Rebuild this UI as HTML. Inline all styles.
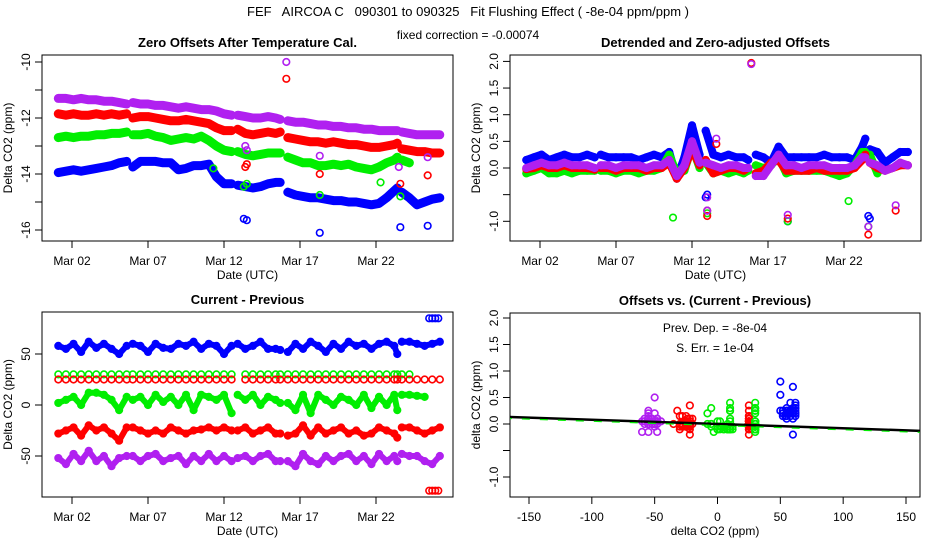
<!DOCTYPE html>
<html><head><meta charset="utf-8"><style>
html,body{margin:0;padding:0;background:#fff}
svg{display:block;font-family:"Liberation Sans",sans-serif}
</style></head><body>
<svg id="chart" width="936" height="540" viewBox="0 0 936 540" xmlns="http://www.w3.org/2000/svg">
<text x="468" y="16" font-size="13" text-anchor="middle" xml:space="preserve">FEF   AIRCOA C   090301 to 090325   Fit Flushing Effect ( -8e-04 ppm/ppm )</text>
<text x="468" y="39" font-size="12" text-anchor="middle">fixed correction = -0.00074</text>
<g id="layer"></g>
</svg>
<script>
// ---------- data ----------
const days = [0.1,0.6,1.1,1.6,2.1,2.6,3.1,3.6,4.1,4.6,null,5.0,5.5,6.0,6.5,7.0,7.5,8.0,8.5,9.0,9.5,10.0,10.5,11.0,11.5,null,11.9,12.4,12.9,13.4,13.9,14.4,14.7,null,15.2,15.7,16.2,16.7,17.2,17.7,18.2,18.7,19.2,19.7,20.2,20.7,21.2,21.7,22.2,22.4,null,22.7,23.2,23.7,24.2,24.7,25.2];
const dateTickDays = [1,6,11,16,21];
const dateTickLabels = ["Mar 02","Mar 07","Mar 12","Mar 17","Mar 22"];

// Panel 1: zero offsets after temperature cal.
const p1Purple = [-11.3,-11.3,-11.35,-11.3,-11.35,-11.35,-11.4,-11.4,-11.45,-11.5,null,-11.45,-11.5,-11.5,-11.55,-11.55,-11.6,-11.65,-11.6,-11.65,-11.7,-11.7,-11.75,-11.85,-11.9,null,-11.9,-11.95,-12.0,-12.0,-11.95,-12.0,-12.05,null,-12.1,-12.15,-12.15,-12.2,-12.25,-12.25,-12.3,-12.3,-12.35,-12.35,-12.4,-12.4,-12.45,-12.45,-12.45,-12.45,null,-12.5,-12.55,-12.6,-12.6,-12.6,-12.6];
const p1Red = [-11.85,-11.9,-11.85,-11.9,-11.9,-11.85,-11.9,-11.85,-11.9,-11.85,null,-12.0,-11.95,-11.95,-12.0,-12.05,-12.1,-12.1,-12.05,-12.1,-12.15,-12.2,-12.35,-12.45,-12.45,null,-12.4,-12.55,-12.6,-12.55,-12.5,-12.55,-12.5,null,-12.7,-12.75,-12.8,-12.85,-12.85,-12.9,-12.85,-12.9,-12.95,-12.95,-13.0,-13.05,-13.05,-13.0,-12.95,-12.9,null,-13.1,-13.15,-13.2,-13.2,-13.25,-13.25];
const p1Green = [-12.7,-12.65,-12.7,-12.65,-12.65,-12.6,-12.6,-12.55,-12.55,-12.5,null,-12.6,-12.6,-12.55,-12.65,-12.7,-12.8,-12.75,-12.7,-12.75,-12.65,-12.8,-13.0,-13.15,-13.2,null,-13.2,-13.3,-13.35,-13.3,-13.25,-13.25,-13.25,null,-13.4,-13.5,-13.6,-13.6,-13.7,-13.7,-13.65,-13.7,-13.65,-13.75,-13.8,-13.85,-13.75,-13.6,-13.5,-13.4,null,-13.5,-13.6,null,null,null,null];
const p1Blue = [-13.95,-13.9,-13.85,-13.9,-13.85,-13.8,-13.75,-13.7,-13.6,-13.55,null,-13.75,-13.55,-13.55,-13.55,-13.6,-13.6,-13.85,-13.8,-13.7,-13.7,-13.65,-14.1,-14.35,-14.35,null,-14.4,-14.45,-14.5,-14.45,-14.35,-14.3,-14.3,null,-14.65,-14.75,-14.8,-14.85,-14.85,-14.9,-14.95,-14.95,-15.0,-15.0,-15.05,-15.1,-15.05,-14.85,-14.6,-14.5,null,-14.65,-14.85,-15.1,-15.0,-14.9,-14.85];
const p1OutPurpleDay = [15.1,12.4,12.5,17.3,22.5,24.4];
const p1OutPurpleVal = [-10.0,-13.0,-13.15,-13.35,-13.75,-13.4];
const p1OutRedDay = [15.1,12.4,12.5,17.3,22.6,24.4];
const p1OutRedVal = [-10.6,-13.75,-13.65,-14.0,-14.35,-14.05];
const p1OutGreenDay = [10.3,12.3,12.5,17.3,21.3,22.6];
const p1OutGreenVal = [-13.8,-14.45,-14.35,-14.75,-14.3,-14.8];
const p1OutBlueDay = [12.3,12.5,17.3,22.6,24.4];
const p1OutBlueVal = [-15.6,-15.65,-16.1,-15.9,-15.85];

// Panel 2: detrended and zero-adjusted offsets
const p2Blue = [0.15,0.2,0.25,0.15,0.2,0.25,0.2,0.2,0.25,0.2,null,0.25,0.2,0.2,0.2,0.2,0.15,0.2,0.25,0.2,0.3,-0.2,0.2,0.8,0.25,null,0.7,0.25,0.2,0.25,0.2,0.2,0.15,null,0.25,0.2,0.1,0.4,0.2,0.2,0.2,0.2,0.2,0.25,0.2,0.2,0.2,0.15,0.4,0.55,null,0.35,0.3,0.1,0.2,0.3,0.3];
const p2Green = [-0.1,-0.05,0,-0.1,-0.1,-0.05,-0.1,-0.05,-0.05,-0.05,null,-0.05,-0.05,-0.1,-0.05,-0.05,-0.1,-0.05,-0.05,0,0.25,-0.1,-0.05,0.4,0.0,null,0.1,-0.1,-0.05,-0.1,-0.05,-0.1,-0.05,null,0.05,0.0,0.05,0.2,-0.1,-0.05,-0.05,-0.05,-0.05,-0.05,-0.1,-0.15,-0.1,0.05,0.3,0.3,null,0.25,-0.1,null,null,null,null];
const p2Red = [-0.02,0,0.05,0,0,0.05,0,0,0,-0.03,null,0,0,-0.05,0,0,0,-0.05,0,0,0.1,-0.2,0,0.35,0.05,null,0.15,-0.1,-0.05,0,0,-0.05,0,null,-0.1,-0.05,0.1,0.15,-0.05,-0.05,-0.05,-0.05,0,-0.05,-0.05,-0.05,-0.05,0,0.15,0.25,null,0.1,0.0,-0.05,0.0,0.05,0.05];
const p2Purple = [0,0.05,0.1,0.05,0.05,0.1,0.05,0.05,0.05,0,null,0.05,0.05,0,0.05,0.05,0.05,0.0,0.05,0.05,0.15,-0.15,0.05,0.5,0.1,null,0.1,0.05,0.0,0.05,0.05,0.0,0.0,null,-0.15,-0.15,0.05,0.25,0.05,0.05,0.0,0.05,0.05,0.05,0.0,0.0,0.0,0.05,0.2,0.2,null,0.1,0.05,-0.05,0.0,0.1,0.05];
const p2OutBlueDay = [11.9,12.0,17.3,22.6,22.7];
const p2OutBlueVal = [-0.55,-0.5,-1.0,-0.9,-0.95];
const p2OutPurpleDay = [12.0,12.0,12.6,14.9,17.3,22.6,24.4];
const p2OutPurpleVal = [-0.55,-0.8,0.55,1.95,-0.88,-1.1,-0.7];
const p2OutRedDay = [12.0,12.0,12.6,14.9,17.3,22.6,24.4];
const p2OutRedVal = [-0.9,-0.8,0.45,1.97,-0.95,-1.25,-0.8];
const p2OutGreenDay = [9.75,12.0,17.3,21.3,22.6];
const p2OutGreenVal = [-0.93,-0.85,-1.0,-0.62,-1.1];

// Panel 3: current - previous
const p3Blue = [58,55,60,52,62,56,60,55,50,58,null,60,58,52,60,56,55,60,58,62,55,60,58,50,58,null,60,55,58,62,55,55,54,null,52,60,55,62,58,52,60,55,62,58,60,55,60,62,58,50,null,62,62,60,58,60,62];
const p3GreenRow = [30,30,30,30,30,30,30,30,30,30,null,30,30,30,30,30,30,30,30,30,30,30,30,30,30,null,null,30,30,30,30,30,30,null,30,30,30,30,30,30,30,30,30,30,30,30,30,30,30,30,null,30,30,null,null,null,null];
const p3RedRow = [25,25,25,25,25,25,25,25,25,25,null,25,25,25,25,25,25,25,25,25,25,25,25,25,25,null,null,25,25,25,25,25,25,null,25,25,25,25,25,25,25,25,25,25,25,25,25,25,25,25,null,25,25,25,25,25,25];
const p3Green = [2,5,8,0,12,12,10,5,-5,8,null,5,8,0,10,3,8,0,10,-5,10,8,5,10,-8,null,10,5,10,0,8,5,2,null,2,-5,10,-8,10,5,0,8,5,0,10,-3,8,0,10,-5,null,10,10,9,8,null,null];
const p3Red = [-28,-25,-22,-30,-20,-25,-22,-28,-35,-22,null,-22,-25,-28,-25,-28,-22,-25,-28,-25,-24,-22,-25,-22,-25,null,-25,-22,-28,-25,-22,-28,-28,null,-30,-28,-20,-30,-22,-28,-25,-22,-28,-25,-30,-28,-22,-25,-28,-32,null,-22,-22,-25,-28,-25,-22];
const p3Purple = [-52,-58,-48,-55,-45,-55,-50,-60,-52,-50,null,-50,-55,-50,-48,-55,-52,-50,-58,-50,-55,-48,-55,-50,-55,null,-52,-50,-55,-50,-48,-55,-55,null,-55,-60,-48,-55,-58,-50,-55,-50,-48,-55,-50,-58,-48,-55,-50,-55,null,-48,-50,-50,-55,-58,-50];
const p3HighBlueDay = [24.5,24.7,24.9,25.1];
const p3HighBlueVal = [85,85,85,85];
const p3LowRedDay = [24.5,24.7,24.9,25.1];
const p3LowRedVal = [-84,-84,-84,-84];

// Panel 4: regression
const fitSlope = -0.0008;
const fitIntercept = 0.0;
const p4XTicks = [-150,-100,-50,0,50,100,150];
const p2YTicks = [-1.0,-0.5,0.0,0.5,1.0,1.5,2.0];
const p2YLabels = ["-1.0","","0.0","0.5","1.0","1.5","2.0"];
const p1YTicks = [-16,-15,-14,-13,-12,-11,-10];
const p1YLabels = ["-16","","-14","","-12","","-10"];
const p3YTicks = [-50,0,50];
const p3YLabels = ["-50","0","50"];

// ---------- drawing ----------
const NS = "http://www.w3.org/2000/svg";
const layer = document.getElementById("layer");
const COL = {blue:"#0000ff", green:"#00ee00", red:"#ff0000", purple:"#b020f0"};
function mk(tag, attrs, parent){
  const e = document.createElementNS(NS, tag);
  for (const k in attrs) e.setAttribute(k, attrs[k]);
  (parent||layer).appendChild(e);
  return e;
}
const d2x = d => 72 + (d - 1) * 15.2;
const P1 = {x0:42,x1:453,y0:55,y1:241, x:d2x, y:v => 62 + (-10 - v) * 28};
const P2 = {x0:510,x1:921,y0:55,y1:241, x:d => d2x(d) + 468, y:v => 168 - v * 53.3};
const P3 = {x0:42,x1:453,y0:312,y1:497, x:d2x, y:v => 405 - v * 1.02};
const P4 = {x0:510,x1:920,y0:313,y1:497, x:v => 717.5 + v * 1.2567, y:v => 424 - v * 53};

function panelFrame(P, name, title, xlab, ylab){
  const g = mk("g", {});
  
  
  const r = mk("rect", {x:P.x0,y:P.y0,width:P.x1-P.x0,height:P.y1-P.y0,fill:"none",stroke:"#000","stroke-width":1}, g);
  
  
  const t = mk("text", {x:(P.x0+P.x1)/2, y:P.y0-8, "font-size":13, "font-weight":"bold", "text-anchor":"middle"}, g);
  t.textContent = title;
  
  
  const xl = mk("text", {x:(P.x0+P.x1)/2, y:P.y1+38, "font-size":12, "text-anchor":"middle"}, g);
  xl.textContent = xlab;
  
  
  const cy = (P.y0+P.y1)/2, cx = P.x0 - 30;
  const yl = mk("text", {x:cx, y:cy, "font-size":12, "text-anchor":"middle", transform:`rotate(-90 ${cx} ${cy})`}, g);
  yl.textContent = ylab;
  
  
  return g;
}
function xAxis(P, g, vals, labels, name){
  vals.forEach((v,i) => {
    const x = P.x(v);
    const tk = mk("line", {x1:x,x2:x,y1:P.y1,y2:P.y1+7,stroke:"#000"}, g);
    
    
    const t = mk("text", {x:x, y:P.y1+24, "font-size":12, "text-anchor":"middle"}, g);
    t.textContent = labels[i];
    
    
  });
}
function yAxis(P, g, vals, labels, name){
  vals.forEach((v,i) => {
    const y = P.y(v);
    const tk = mk("line", {x1:P.x0-7,x2:P.x0,y1:y,y2:y,stroke:"#000"}, g);
    
    
    if (labels[i]) {
      const tx = P.x0 - 12;
      const t = mk("text", {x:tx, y:y, "font-size":12, "text-anchor":"middle", transform:`rotate(-90 ${tx} ${y})`}, g);
      t.textContent = labels[i];
      
      
    }
  });
}
function clipFor(P, id){
  const cp = mk("clipPath", {id:id});
  mk("rect", {x:P.x0,y:P.y0,width:P.x1-P.x0,height:P.y1-P.y0}, cp);
  return "url(#" + id + ")";
}
function series(P, g, xs, ys, color, name, bandW){
  const sg = mk("g", {}, g);
  
  
  let seg = [];
  const flush = () => {
    if (seg.length > 1 && bandW) {
      const pl = mk("polyline", {points:seg.join(" "), fill:"none", stroke:color, "stroke-width":bandW, "stroke-linejoin":"round", "stroke-linecap":"round"}, sg);
      
      
    }
    seg = [];
  };
  for (let i = 0; i < xs.length; i++) {
    if (xs[i] === null || ys[i] === null || ys[i] === undefined) { flush(); continue; }
    const x = P.x(xs[i]), y = P.y(ys[i]);
    seg.push(x.toFixed(1) + "," + y.toFixed(1));
    const c = mk("circle", {cx:x, cy:y, r:3.3, fill:"none", stroke:color, "stroke-width":1.6}, sg);
    
    
  }
  flush();
  return sg;
}

// Panel 1
let g = panelFrame(P1, "panel-zero-offsets", "Zero Offsets After Temperature Cal.", "Date (UTC)", "Delta CO2 (ppm)");
xAxis(P1, g, dateTickDays, dateTickLabels, "panel-zero-offsets");
yAxis(P1, g, p1YTicks, p1YLabels, "panel-zero-offsets");
let pg = mk("g", {"clip-path":clipFor(P1,"c1")}, g);
series(P1, pg, days, p1Blue, COL.blue, "p1-blue-series", 9);
series(P1, pg, days, p1Green, COL.green, "p1-green-series", 9);
series(P1, pg, days, p1Red, COL.red, "p1-red-series", 9);
series(P1, pg, days, p1Purple, COL.purple, "p1-purple-series", 9);
series(P1, pg, p1OutBlueDay, p1OutBlueVal, COL.blue, "p1-blue-outliers", 0);
series(P1, pg, p1OutGreenDay, p1OutGreenVal, COL.green, "p1-green-outliers", 0);
series(P1, pg, p1OutRedDay, p1OutRedVal, COL.red, "p1-red-outliers", 0);
series(P1, pg, p1OutPurpleDay, p1OutPurpleVal, COL.purple, "p1-purple-outliers", 0);

// Panel 2
g = panelFrame(P2, "panel-detrended", "Detrended and Zero-adjusted Offsets", "Date (UTC)", "Delta CO2 (ppm)");
xAxis(P2, g, dateTickDays, dateTickLabels, "panel-detrended");
yAxis(P2, g, p2YTicks, p2YLabels, "panel-detrended");
pg = mk("g", {"clip-path":clipFor(P2,"c2")}, g);
series(P2, pg, days, p2Blue, COL.blue, "p2-blue-series", 8);
series(P2, pg, days, p2Green, COL.green, "p2-green-series", 8);
series(P2, pg, days, p2Red, COL.red, "p2-red-series", 8);
series(P2, pg, days, p2Purple, COL.purple, "p2-purple-series", 8);
series(P2, pg, p2OutBlueDay, p2OutBlueVal, COL.blue, "p2-blue-outliers", 0);
series(P2, pg, p2OutGreenDay, p2OutGreenVal, COL.green, "p2-green-outliers", 0);
series(P2, pg, p2OutRedDay, p2OutRedVal, COL.red, "p2-red-outliers", 0);
series(P2, pg, p2OutPurpleDay, p2OutPurpleVal, COL.purple, "p2-purple-outliers", 0);

// Panel 3
g = panelFrame(P3, "panel-current-previous", "Current - Previous", "Date (UTC)", "Delta CO2 (ppm)");
xAxis(P3, g, dateTickDays, dateTickLabels, "panel-current-previous");
yAxis(P3, g, p3YTicks, p3YLabels, "panel-current-previous");
pg = mk("g", {"clip-path":clipFor(P3,"c3")}, g);
series(P3, pg, days, p3Blue, COL.blue, "p3-blue-series", 6);
series(P3, pg, days, p3GreenRow, COL.green, "p3-green-row", 0);
series(P3, pg, days, p3RedRow, COL.red, "p3-red-row", 0);
series(P3, pg, days, p3Green, COL.green, "p3-green-series", 6);
series(P3, pg, days, p3Red, COL.red, "p3-red-series", 6);
series(P3, pg, days, p3Purple, COL.purple, "p3-purple-series", 6);
series(P3, pg, p3HighBlueDay, p3HighBlueVal, COL.blue, "p3-blue-high-row", 0);
series(P3, pg, p3LowRedDay, p3LowRedVal, COL.red, "p3-red-low-row", 0);

// Panel 4
g = panelFrame(P4, "panel-offsets-vs-diff", "Offsets vs. (Current - Previous)", "delta CO2 (ppm)", "delta CO2 (ppm)");
xAxis(P4, g, p4XTicks, p4XTicks.map(String), "panel-offsets-vs-diff");
yAxis(P4, g, p2YTicks, p2YLabels, "panel-offsets-vs-diff");
pg = mk("g", {"clip-path":clipFor(P4,"c4")}, g);
series(P4, pg, p3Purple, p2Purple, COL.purple, "p4-purple-points", 0);
series(P4, pg, p3Red, p2Red, COL.red, "p4-red-points", 0);
series(P4, pg, p3RedRow, p2Red, COL.red, "p4-red-row-points", 0);
series(P4, pg, p3Green, p2Green, COL.green, "p4-green-points", 0);
series(P4, pg, p3GreenRow, p2Green, COL.green, "p4-green-row-points", 0);
series(P4, pg, p3Blue, p2Blue, COL.blue, "p4-blue-points", 0);
const fx0 = -170, fx1 = 170;
const fit = mk("line", {x1:P4.x(fx0), y1:P4.y(fitIntercept + fitSlope*fx0), x2:P4.x(fx1), y2:P4.y(fitIntercept + fitSlope*fx1), stroke:"#000", "stroke-width":2.5}, pg);


const fit2 = mk("line", {x1:P4.x(fx0), y1:P4.y(fitIntercept + fitSlope*fx0)+1.5, x2:P4.x(fx1), y2:P4.y(fitIntercept + fitSlope*fx1)+1.5, stroke:"#00ee00", "stroke-width":1.2, "stroke-dasharray":"8 10"}, pg);


const a1 = mk("text", {x:715, y:332, "font-size":12, "text-anchor":"middle"}, g);
a1.textContent = "Prev. Dep. =  -8e-04";


const a2 = mk("text", {x:715, y:352, "font-size":12, "text-anchor":"middle"}, g);
a2.textContent = "S. Err. =  1e-04";


</script>
</body></html>
